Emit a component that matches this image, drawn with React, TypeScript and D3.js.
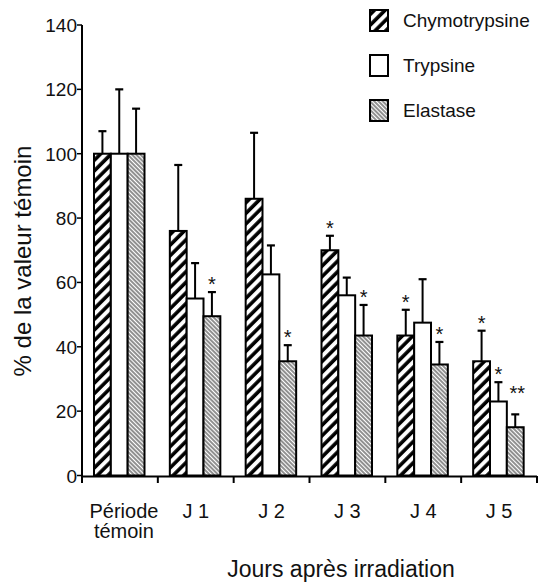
import * as d3 from 'd3';

// jours après irradiation (groupes)
const categories = ['Période témoin', 'J 1', 'J 2', 'J 3', 'J 4', 'J 5'];
const seriesNames = ['Chymotrypsine', 'Trypsine', 'Elastase'];

// % de la valeur témoin
const chymotrypsine = [100, 76, 86, 70, 43.5, 35.5];
const trypsine = [100, 55, 62.5, 56, 47.5, 23];
const elastase = [100, 49.5, 35.5, 43.5, 34.5, 15];

// écart-type (partie haute seulement)
const chymotrypsineErr = [7, 20.5, 20.5, 4.5, 8, 9.5];
const trypsineErr = [20, 11, 9, 5.5, 13.5, 6];
const elastaseErr = [14, 7.5, 5, 9.5, 7, 4];

// significativité
const chymotrypsineSig = ['', '', '', '*', '*', '*'];
const trypsineSig = ['', '', '', '', '', '*'];
const elastaseSig = ['', '*', '*', '*', '*', '**'];

const yTicks = [0, 20, 40, 60, 80, 100, 120, 140];

const W = 539;
const H = 586;
const FONT = '"Liberation Sans", Arial, Helvetica, sans-serif';
const FILLS = ['url(#hatchBold)', '#fff', 'url(#hatchFine)'];

export default function App() {
  const y = d3.scaleLinear().domain([0, 140]).range([475.5, 25]);
  const x0 = d3.scaleBand<string>().domain(categories).range([82, 537]).padding(0);
  const x1 = d3.scaleBand<string>().domain(seriesNames).range([12, 62.5]).padding(0);

  const table = [
    { values: chymotrypsine, err: chymotrypsineErr, sig: chymotrypsineSig },
    { values: trypsine, err: trypsineErr, sig: trypsineSig },
    { values: elastase, err: elastaseErr, sig: elastaseSig },
  ];

  const bw = x1.bandwidth();

  return (
    <svg width={W} height={H} style={{ position: 'absolute', left: 0, top: 0, background: '#fff' }} fontFamily={FONT}>
      <defs>
        <pattern id="hatchBold" patternUnits="userSpaceOnUse" width={7.5} height={7.5} patternTransform="rotate(45)">
          <rect width={7.5} height={7.5} fill="#fff" />
          <line x1={2} y1={0} x2={2} y2={7.5} stroke="#000" strokeWidth={3.6} />
        </pattern>
        <pattern id="hatchFine" patternUnits="userSpaceOnUse" width={3} height={3} patternTransform="rotate(-45)">
          <rect width={3} height={3} fill="#fff" />
          <line x1={1} y1={0} x2={1} y2={3} stroke="#222" strokeWidth={1} />
        </pattern>
      </defs>

      {/* barres */}
      {categories.map((cat, ci) => (
        <g key={cat} transform={`translate(${x0(cat)},0)`}>
          {table.map((s, si) => {
            const bx = x1(seriesNames[si])!;
            const v = s.values[ci];
            const top = y(v + s.err[ci]);
            const cx = bx + bw / 2;
            const sig = s.sig[ci];
            return (
              <g key={si}>
                <line x1={cx} x2={cx} y1={y(v)} y2={top} stroke="#000" strokeWidth={2} />
                <line x1={cx - 4} x2={cx + 4} y1={top} y2={top} stroke="#000" strokeWidth={2.2} />
                <rect x={bx} y={y(v)} width={bw} height={y(0) - y(v)} fill={FILLS[si]} stroke="#000" strokeWidth={2} />
                {sig && (
                  <text x={cx + (sig.length > 1 ? 2 : 0)} y={top - (sig.length > 1 ? 14 : 1)} textAnchor="middle" fontSize={20} fill="#111">
                    {sig}
                  </text>
                )}
              </g>
            );
          })}
        </g>
      ))}

      {/* axe Y */}
      <line x1={82} x2={82} y1={y(140)} y2={483} stroke="#000" strokeWidth={2} />
      {yTicks.map(t => (
        <g key={t}>
          <line x1={77} x2={82} y1={y(t)} y2={y(t)} stroke="#000" strokeWidth={1.5} />
          <text x={77} y={y(t) + 7} textAnchor="end" fontSize={19} fill="#111">{t}</text>
        </g>
      ))}

      {/* axe X */}
      <line x1={81} x2={537} y1={476.5} y2={476.5} stroke="#000" strokeWidth={2.2} />
      {categories.map(cat => {
        const xe = x0(cat)! + x0.bandwidth();
        return <line key={cat} x1={xe} x2={xe} y1={476} y2={483} stroke="#000" strokeWidth={2} />;
      })}
      {categories.map(cat => {
        const cx = x0(cat)! + x0.bandwidth() / 2 + (cat.includes(' ') && cat.length > 4 ? 4 : 0);
        const lines = cat.startsWith('J') ? [cat] : cat.split(' ');
        return (
          <text key={cat} x={cx} y={518} textAnchor="middle" fontSize={20} fill="#111">
            {lines.map((l, i) => (
              <tspan key={i} x={cx} dy={i === 0 ? 0 : 20}>{l}</tspan>
            ))}
          </text>
        );
      })}

      {/* titres */}
      <text x={341} y={577} textAnchor="middle" fontSize={23} fill="#111">Jours après irradiation</text>
      <text transform="translate(31,261) rotate(-90)" textAnchor="middle" fontSize={24} fill="#111">% de la valeur témoin</text>

      {/* légende */}
      {seriesNames.map((name, i) => {
        const cy = 20 + i * 45;
        return (
          <g key={name}>
            <rect x={370} y={cy - 10} width={18} height={21} fill={FILLS[i]} stroke="#000" strokeWidth={2} />
            <text x={403} y={cy + 7} fontSize={19} fill="#111">{name}</text>
          </g>
        );
      })}
    </svg>
  );
}
